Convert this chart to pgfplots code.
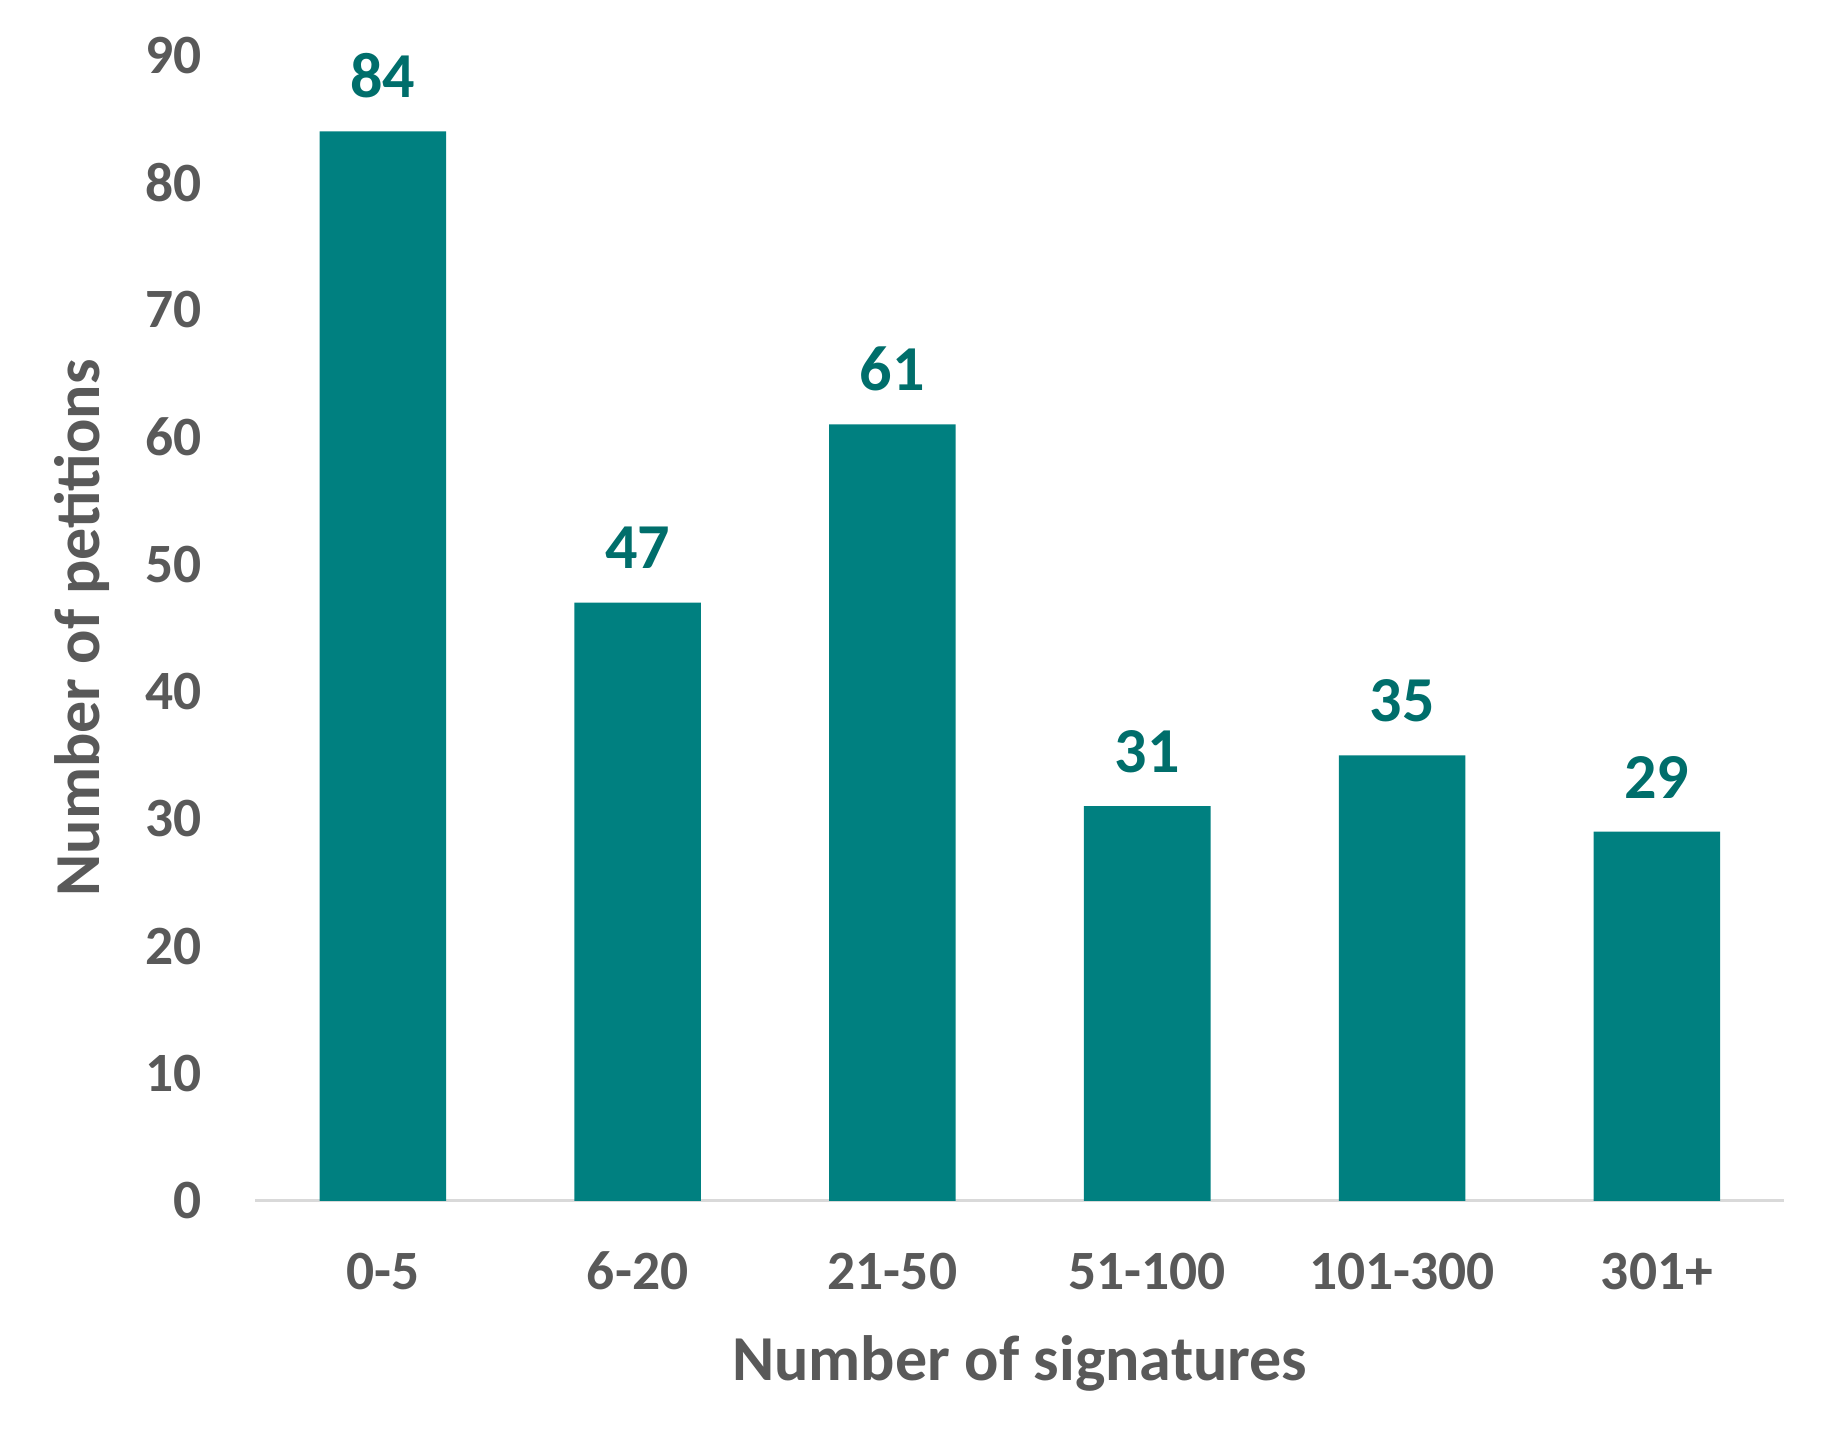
\documentclass[border=0pt]{standalone}
\usepackage{fontspec}
\setmainfont{Carlito}
\usepackage{pgfplots}
\pgfplotsset{compat=1.18}
\definecolor{barTeal}{HTML}{008080}
\definecolor{labTeal}{HTML}{006E6B}
\definecolor{txtGray}{HTML}{595959}
\definecolor{lineGray}{HTML}{D9D9D9}
\begin{document}
\begin{tikzpicture}
\useasboundingbox (-65.4pt,-64.2pt) rectangle (405pt,307.5pt);
\begin{axis}[
  at={(0,0)}, anchor=south west,
  scale only axis,
  width=391.5pt, height=293.4pt,
  xmin=-0.5, xmax=5.5,
  ymin=0, ymax=90,
  ytick={0,10,...,90},
  xtick={0,1,2,3,4,5},
  xticklabels={0-5,6-20,21-50,51-100,101-300,301+},
  axis x line=bottom, axis y line=left,
  x axis line style={draw=lineGray, line width=0.8pt, -},
  y axis line style={draw=none},
  major tick length=0pt,
  /pgf/number format/assume math mode=true,
  tick label style={font=\bfseries\fontsize{14.2}{17}\selectfont, text=txtGray},
  xticklabel style={anchor=base, inner sep=0pt, yshift=-22.8pt},
  yticklabel style={anchor=east, inner sep=0pt, xshift=-13.5pt},
  xlabel={Number of signatures},
  ylabel={Number of petitions},
  label style={font=\bfseries\fontsize{16.4}{20}\selectfont, text=txtGray},
  xlabel style={at={([yshift=-45.9pt]axis description cs:0.5,0)}, anchor=base, inner sep=0pt},
  ylabel style={at={([xshift=-44.4pt]axis description cs:0,0.5)}, anchor=center, inner sep=0pt},
  ybar, bar width=32.4pt,
  nodes near coords,
  nodes near coords style={anchor=base, inner sep=0pt, yshift=8.6pt, font=\bfseries\fontsize{16.4}{20}\selectfont, text=labTeal},
  clip=false,
]
\addplot[fill=barTeal, draw=none] coordinates {(0,84) (1,47) (2,61) (3,31) (4,35) (5,29)};
\end{axis}
\end{tikzpicture}
\end{document}
